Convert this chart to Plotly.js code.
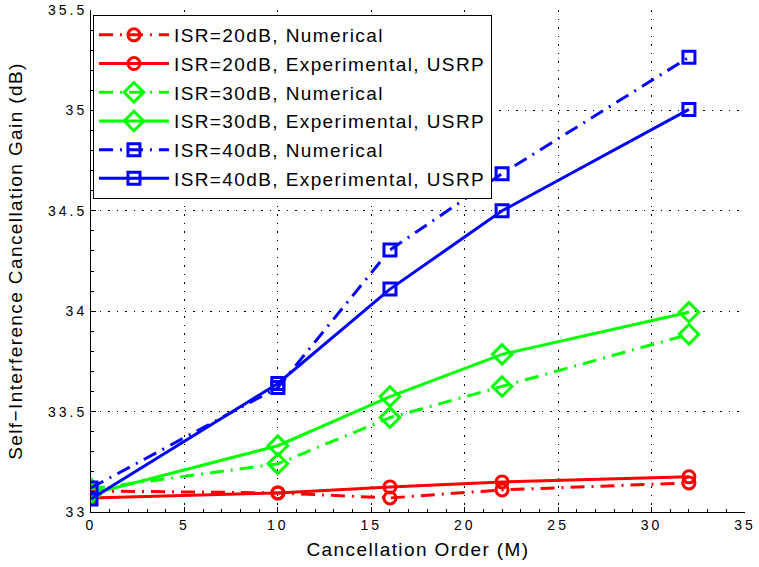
<!DOCTYPE html>
<html>
<head>
<meta charset="utf-8">
<script src="https://cdn.plot.ly/plotly-3.0.1.min.js"></script>
<style>
html,body{margin:0;padding:0;background:#fff;}
#chart{width:759px;height:567px;}
text.legendtext{letter-spacing:1.4px;}
.xtick text,.ytick text{letter-spacing:3px;}
text.xtitle,text.ytitle{letter-spacing:1.4px;}
</style>
</head>
<body>
<div id="chart"></div>
<script>
const orders = [0, 10, 16, 22, 32];
const isr20Num = [33.105, 33.095, 33.07, 33.11, 33.145];
const isr20Exp = [33.07, 33.095, 33.125, 33.15, 33.175];
const isr30Num = [33.115, 33.24, 33.47, 33.625, 33.885];
const isr30Exp = [33.09, 33.33, 33.575, 33.785, 33.995];
const isr40Num = [33.12, 33.62, 34.305, 34.685, 35.265];
const isr40Exp = [33.065, 33.64, 34.11, 34.5, 35.005];
const names = [
  'ISR=20dB, Numerical', 'ISR=20dB, Experimental, USRP',
  'ISR=30dB, Numerical', 'ISR=30dB, Experimental, USRP',
  'ISR=40dB, Numerical', 'ISR=40dB, Experimental, USRP'
];
const series = [isr20Num, isr20Exp, isr30Num, isr30Exp, isr40Num, isr40Exp];
const colors = ['#ff0000', '#ff0000', '#00ff00', '#00ff00', '#0000ff', '#0000ff'];
const symbols = ['circle-open', 'circle-open', 'diamond-open', 'diamond-open', 'square-open', 'square-open'];
const dashes = ['14px,7px,2px,7px', 'solid', '14px,7px,2px,7px', 'solid', '14px,7px,2px,7px', 'solid'];

const traces = series.map((ys, i) => ({
  x: orders, y: ys, name: names[i], type: 'scatter', mode: 'lines+markers',
  legendgroup: 'g' + i,
  line: {color: colors[i], width: 3, dash: dashes[i]},
  marker: {symbol: symbols[i], size: symbols[i].startsWith('diamond') ? 15 : 12, color: colors[i], line: {color: colors[i], width: 3}}
}));

const axisCommon = {
  showline: true, mirror: false, linecolor: '#000', linewidth: 1,
  ticks: 'inside', ticklen: 5, tickcolor: '#000',
  showgrid: true, gridcolor: '#000', griddash: '1.5px,7px', gridwidth: 1,
  zeroline: false,
  tickfont: {family: 'Liberation Sans, Arial, sans-serif', size: 14, color: '#000'}
};

const layout = {
  width: 759, height: 567,
  margin: {l: 91, r: 14, t: 10, b: 55},
  paper_bgcolor: '#fff', plot_bgcolor: '#fff',
  font: {family: 'Liberation Sans, Arial, sans-serif', color: '#000'},
  xaxis: Object.assign({}, axisCommon, {
    range: [0, 35], dtick: 5, tick0: 0,
    minor: {dtick: 1, ticks: 'inside', ticklen: 3, tickcolor: '#000', showgrid: false},
    title: {text: 'Cancellation Order (M)', font: {size: 19}, standoff: 10}
  }),
  yaxis: Object.assign({}, axisCommon, {
    range: [33, 35.5], dtick: 0.5, tick0: 33,
    minor: {dtick: 0.1, ticks: 'inside', ticklen: 3, tickcolor: '#000', showgrid: false},
    title: {text: 'Self\u2212Interference Cancellation Gain (dB)', font: {size: 19}, standoff: 20}
  }),
  legend: {
    x: 0.003, y: 0.99, xanchor: 'left', yanchor: 'top',
    bgcolor: '#fff', bordercolor: '#000', borderwidth: 1,
    font: {size: 19, color: '#000'}, tracegroupgap: 1, itemwidth: 70
  },
  showlegend: true
};

Plotly.newPlot('chart', traces, layout, {displayModeBar: false, staticPlot: true});
</script>
</body>
</html>
